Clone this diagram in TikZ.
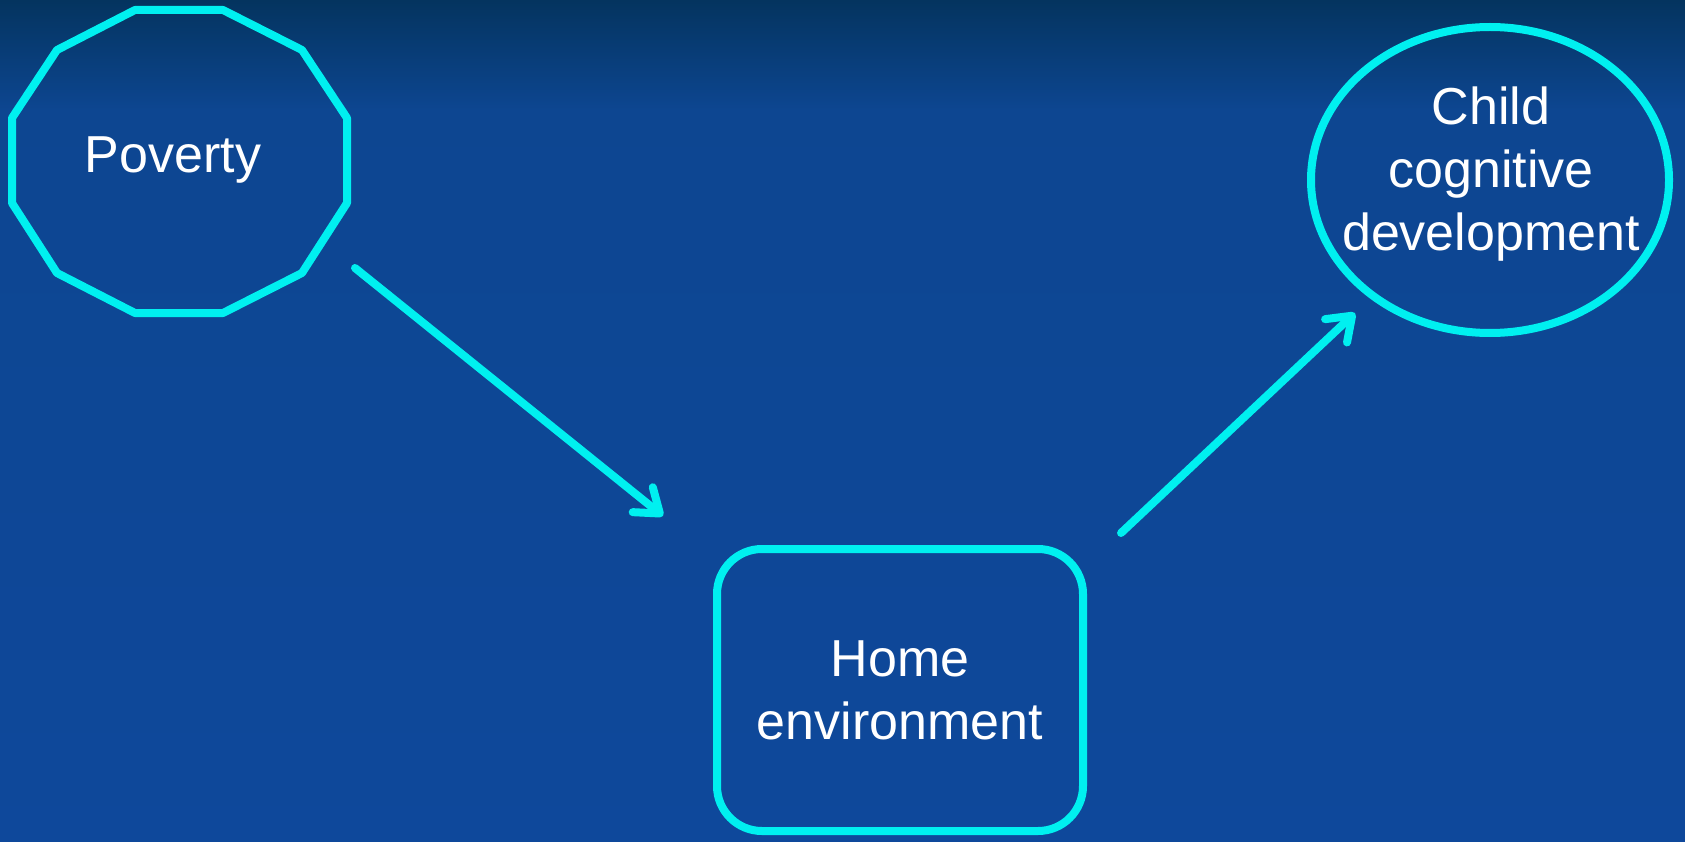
\documentclass[tikz,border=0pt]{standalone}
\usepackage{fontspec}
\setmainfont{Liberation Sans}
\usetikzlibrary{arrows.meta,shapes.geometric,calc}
\definecolor{cyanline}{RGB}{0,240,240}
\definecolor{bgtop}{RGB}{4,52,95}
\definecolor{bgmid}{RGB}{13,70,145}
\definecolor{bgbot}{RGB}{14,72,155}
\tikzset{
  outline/.style={draw=cyanline, line width=8pt, line join=round},
  lbl/.style={text=white, font=\fontsize{52}{63}\selectfont, align=center, inner sep=0pt},
  arr/.style={draw=cyanline, line width=8pt, line cap=round,
    -{Straight Barb[length=22pt,width=32pt,line cap=round,line join=round]}},
}
\begin{document}
\begin{tikzpicture}[x=1pt,y=-1pt]
\useasboundingbox (0,0) rectangle (1685,842);
\shade[top color=bgtop, bottom color=bgmid] (0,0) rectangle (1685,110.5);
\shade[top color=bgmid, bottom color=bgbot] (0,110) rectangle (1685,842);
% Poverty (dodecagon)
\draw[outline] (135,10) -- (223,10) -- (302,50) -- (347,118) -- (347,203) -- (302,273)
  -- (223,313) -- (135,313) -- (57,273) -- (12,203) -- (12,118) -- (57,50) -- cycle;
\node[lbl, anchor=base] (pov) at (173,173) {Poverty};
% Home environment
\node[outline, lbl, rectangle, rounded corners=45pt, minimum width=366pt, minimum height=282pt] (home) at (900,690) {Home\\environment};
% Child cognitive development
\node[outline, ellipse, minimum width=358pt, minimum height=306pt, inner sep=0pt] (cd) at (1490,180) {};
\node[lbl] (cdt) at (1491,174) {Child\\cognitive\\development};
% arrows
\coordinate (a1s) at ($(pov.base)+(182,95)$);
\coordinate (a1e) at ($(home.north west)+(-50,-29)$);
\coordinate (a2s) at ($(home.north east)+(34,-12)$);
\coordinate (a2e) at ($(cd.center)+(-135,133)$);
\draw[arr] (a1s) -- (a1e);
\draw[arr] (a2s) -- (a2e);
\end{tikzpicture}
\end{document}
